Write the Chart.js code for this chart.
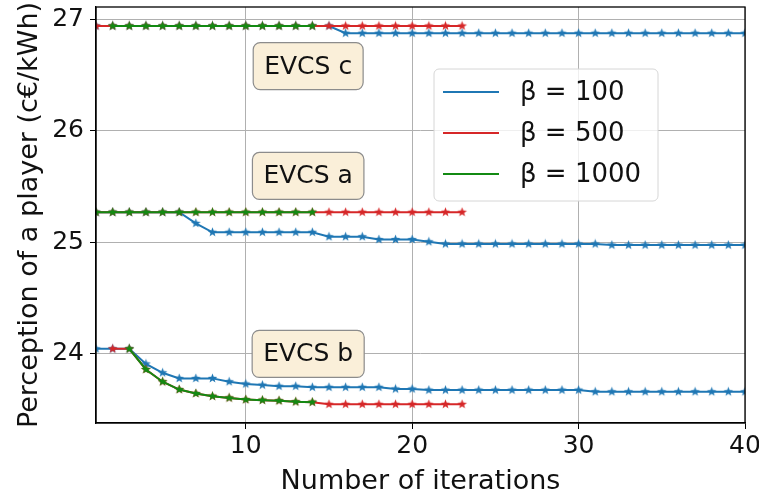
<!DOCTYPE html>
<html>
<head>
<meta charset="utf-8">
<script src="https://cdn.jsdelivr.net/npm/chart.js@4.4.1/dist/chart.umd.min.js"></script>
<style>
    html, body { margin: 0; padding: 0; background: #fff; }
    #box { width: 759px; height: 502px; }
</style>
</head>
<body>
<div id="box"><canvas id="perceptionChart" width="759" height="502"></canvas></div>
<script>
const iterations = [1, 2, 3, 4, 5, 6, 7, 8, 9, 10, 11, 12, 13, 14, 15, 16, 17, 18, 19, 20,
    21, 22, 23, 24, 25, 26, 27, 28, 29, 30, 31, 32, 33, 34, 35, 36, 37, 38, 39, 40];

// EVCS c
const cBeta100 = [26.94, 26.94, 26.94, 26.94, 26.94, 26.94, 26.94, 26.94, 26.94, 26.94,
    26.94, 26.94, 26.94, 26.94, 26.94, 26.875, 26.875, 26.875, 26.875, 26.875,
    26.875, 26.875, 26.875, 26.875, 26.875, 26.875, 26.875, 26.875, 26.875, 26.875,
    26.875, 26.875, 26.875, 26.875, 26.875, 26.875, 26.875, 26.875, 26.875, 26.875];
const cBeta500 = [26.94, 26.94, 26.94, 26.94, 26.94, 26.94, 26.94, 26.94, 26.94, 26.94,
    26.94, 26.94, 26.94, 26.94, 26.94, 26.94, 26.94, 26.94, 26.94, 26.94,
    26.94, 26.94, 26.94];
const cBeta1000 = [null, 26.94, 26.94, 26.94, 26.94, 26.94, 26.94, 26.94, 26.94, 26.94,
    26.94, 26.94, 26.94, 26.94];

// EVCS a
const aBeta100 = [25.27, 25.27, 25.27, 25.27, 25.27, 25.27, 25.17, 25.09, 25.09, 25.09,
    25.09, 25.09, 25.09, 25.09, 25.05, 25.05, 25.05, 25.025, 25.025, 25.025,
    25.005, 24.985, 24.985, 24.985, 24.985, 24.985, 24.985, 24.985, 24.985, 24.985,
    24.985, 24.975, 24.975, 24.975, 24.975, 24.975, 24.975, 24.975, 24.975, 24.975];
const aBeta500 = [25.27, 25.27, 25.27, 25.27, 25.27, 25.27, 25.27, 25.27, 25.27, 25.27,
    25.27, 25.27, 25.27, 25.27, 25.27, 25.27, 25.27, 25.27, 25.27, 25.27,
    25.27, 25.27, 25.27];
const aBeta1000 = [25.27, 25.27, 25.27, 25.27, 25.27, 25.27, 25.27, 25.27, 25.27, 25.27,
    25.27, 25.27, 25.27, 25.27];

// EVCS b
const bBeta100 = [24.045, 24.045, 24.045, 23.91, 23.83, 23.78, 23.78, 23.78, 23.75, 23.73,
    23.72, 23.71, 23.71, 23.70, 23.70, 23.70, 23.70, 23.70, 23.685, 23.685,
    23.675, 23.675, 23.675, 23.675, 23.675, 23.675, 23.675, 23.675, 23.675, 23.675,
    23.66, 23.66, 23.66, 23.66, 23.66, 23.66, 23.66, 23.66, 23.66, 23.66];
const bBeta500 = [null, 24.045, 24.045, 23.86, 23.75, 23.68, 23.645, 23.62, 23.605, 23.59,
    23.585, 23.58, 23.57, 23.567, 23.548, 23.548, 23.548, 23.548, 23.548, 23.548,
    23.548, 23.548, 23.548];
const bBeta1000 = [null, null, 24.045, 23.86, 23.75, 23.68, 23.645, 23.62, 23.605, 23.59,
    23.585, 23.58, 23.57, 23.567];

const betaLabels = ['β = 100', 'β = 500', 'β = 1000'];
const betaColors = ['#1f77b4', '#d62728', '#138a13'];

const xTicks = [10, 20, 30, 40];
const yTicks = [24, 25, 26, 27];

const noteLabels = ['EVCS c', 'EVCS a', 'EVCS b'];
const noteX = [13.75, 13.75, 13.75];
const noteY = [26.58, 25.595, 24.0];

const FONT = "'DejaVu Sans', sans-serif";

function makeStar(color) {
    const c = document.createElement('canvas');
    c.width = 11;
    c.height = 11;
    const ctx = c.getContext('2d');
    ctx.beginPath();
    for (let i = 0; i < 10; i++) {
        const r = i % 2 === 0 ? 5 : 2.1;
        const a = -Math.PI / 2 + i * Math.PI / 5;
        const px = 5.5 + r * Math.cos(a);
        const py = 5.5 + r * Math.sin(a);
        if (i === 0) ctx.moveTo(px, py); else ctx.lineTo(px, py);
    }
    ctx.closePath();
    ctx.fillStyle = color;
    ctx.fill();
    return c;
}

const stars = betaColors.map(makeStar);

function toPoints(values) {
    const pts = [];
    values.forEach((v, i) => {
        if (v !== null) pts.push({ x: iterations[i], y: v });
    });
    return pts;
}

function makeDataset(values, beta) {
    return {
        label: betaLabels[beta],
        data: toPoints(values),
        borderColor: betaColors[beta],
        backgroundColor: betaColors[beta],
        borderWidth: 2,
        pointStyle: stars[beta],
        pointRadius: 5,
        tension: 0,
        // green on top of red on top of blue
        order: 3 - beta
    };
}

const datasets = [
    makeDataset(cBeta100, 0), makeDataset(aBeta100, 0), makeDataset(bBeta100, 0),
    makeDataset(cBeta500, 1), makeDataset(aBeta500, 1), makeDataset(bBeta500, 1),
    makeDataset(cBeta1000, 2), makeDataset(aBeta1000, 2), makeDataset(bBeta1000, 2)
];

function roundRect(ctx, x, y, w, h, r) {
    ctx.beginPath();
    ctx.moveTo(x + r, y);
    ctx.lineTo(x + w - r, y);
    ctx.arcTo(x + w, y, x + w, y + r, r);
    ctx.lineTo(x + w, y + h - r);
    ctx.arcTo(x + w, y + h, x + w - r, y + h, r);
    ctx.lineTo(x + r, y + h);
    ctx.arcTo(x, y + h, x, y + h - r, r);
    ctx.lineTo(x, y + r);
    ctx.arcTo(x, y, x + r, y, r);
    ctx.closePath();
}

// full box around the plot, like the matplotlib spines
const framePlugin = {
    id: 'frame',
    afterDatasetsDraw(chart) {
        const a = chart.chartArea;
        const ctx = chart.ctx;
        ctx.save();
        ctx.strokeStyle = '#000';
        ctx.lineWidth = 1.3;
        ctx.strokeRect(a.left, a.top, a.right - a.left, a.bottom - a.top);
        ctx.restore();
    }
};

const notesPlugin = {
    id: 'notes',
    afterDatasetsDraw(chart) {
        const ctx = chart.ctx;
        const xs = chart.scales.x;
        const ys = chart.scales.y;
        ctx.save();
        ctx.font = '25px ' + FONT;
        ctx.textAlign = 'center';
        ctx.textBaseline = 'middle';
        noteLabels.forEach((txt, i) => {
            const cx = xs.getPixelForValue(noteX[i]);
            const cy = ys.getPixelForValue(noteY[i]);
            const w = ctx.measureText(txt).width + 22;
            const h = 47;
            roundRect(ctx, cx - w / 2, cy - h / 2, w, h, 7);
            ctx.fillStyle = '#faefd9';
            ctx.fill();
            ctx.strokeStyle = '#8c8c8c';
            ctx.lineWidth = 1.2;
            ctx.stroke();
            ctx.fillStyle = '#111';
            ctx.fillText(txt, cx, cy + 1);
        });
        ctx.restore();
    }
};

const legendPlugin = {
    id: 'floatLegend',
    afterDraw(chart) {
        const ctx = chart.ctx;
        const area = chart.chartArea;
        const left = area.right - 311;
        const top = area.top + 62;
        const w = 224;
        const h = 132;
        ctx.save();
        roundRect(ctx, left, top, w, h, 5);
        ctx.fillStyle = 'rgba(255,255,255,0.8)';
        ctx.fill();
        ctx.strokeStyle = '#d6d6d6';
        ctx.lineWidth = 1;
        ctx.stroke();
        ctx.font = '26px ' + FONT;
        ctx.textBaseline = 'middle';
        betaLabels.forEach((txt, i) => {
            const y = top + 23 + i * 41;
            ctx.strokeStyle = betaColors[i];
            ctx.lineWidth = 2;
            ctx.beginPath();
            ctx.moveTo(left + 9, y);
            ctx.lineTo(left + 65, y);
            ctx.stroke();
            ctx.fillStyle = '#111';
            ctx.fillText(txt, left + 86, y + 1);
        });
        ctx.restore();
    }
};

document.addEventListener('DOMContentLoaded', () => {
    new Chart(document.getElementById('perceptionChart'), {
        type: 'line',
        data: { datasets: datasets },
        plugins: [framePlugin, notesPlugin, legendPlugin],
        options: {
            responsive: false,
            animation: false,
            devicePixelRatio: 1,
            layout: { padding: { left: 14, top: 7, right: 14, bottom: 4 } },
            plugins: {
                legend: { display: false },
                tooltip: { enabled: false }
            },
            scales: {
                x: {
                    type: 'linear',
                    min: 1,
                    max: 40,
                    afterBuildTicks: s => { s.ticks = xTicks.map(v => ({ value: v })); },
                    afterFit: s => {
                        s.height = 75;
                        s.paddingLeft = 0;
                        s.paddingRight = 0;
                    },
                    grid: { color: '#b0b0b0', lineWidth: 1, tickColor: '#000', tickLength: 6 },
                    border: { color: '#000', width: 1.3 },
                    ticks: { color: '#111', font: { family: FONT, size: 25 }, padding: 2, maxRotation: 0 },
                    title: {
                        display: true,
                        text: 'Number of iterations',
                        color: '#111',
                        font: { family: FONT, size: 27 },
                        padding: { top: 0, bottom: 0 }
                    }
                },
                y: {
                    min: 23.38,
                    max: 27.11,
                    afterBuildTicks: s => { s.ticks = yTicks.map(v => ({ value: v })); },
                    afterFit: s => {
                        s.width = 82;
                        s.paddingTop = 0;
                        s.paddingBottom = 0;
                    },
                    grid: { color: '#b0b0b0', lineWidth: 1, tickColor: '#000', tickLength: 6 },
                    border: { color: '#000', width: 1.3 },
                    ticks: { color: '#111', font: { family: FONT, size: 25 }, padding: 6 },
                    title: {
                        display: true,
                        text: 'Perception of a player (c€/kWh)',
                        color: '#111',
                        font: { family: FONT, size: 27 },
                        padding: { top: 0, bottom: 0 }
                    }
                }
            }
        }
    });
});
</script>
</body>
</html>
